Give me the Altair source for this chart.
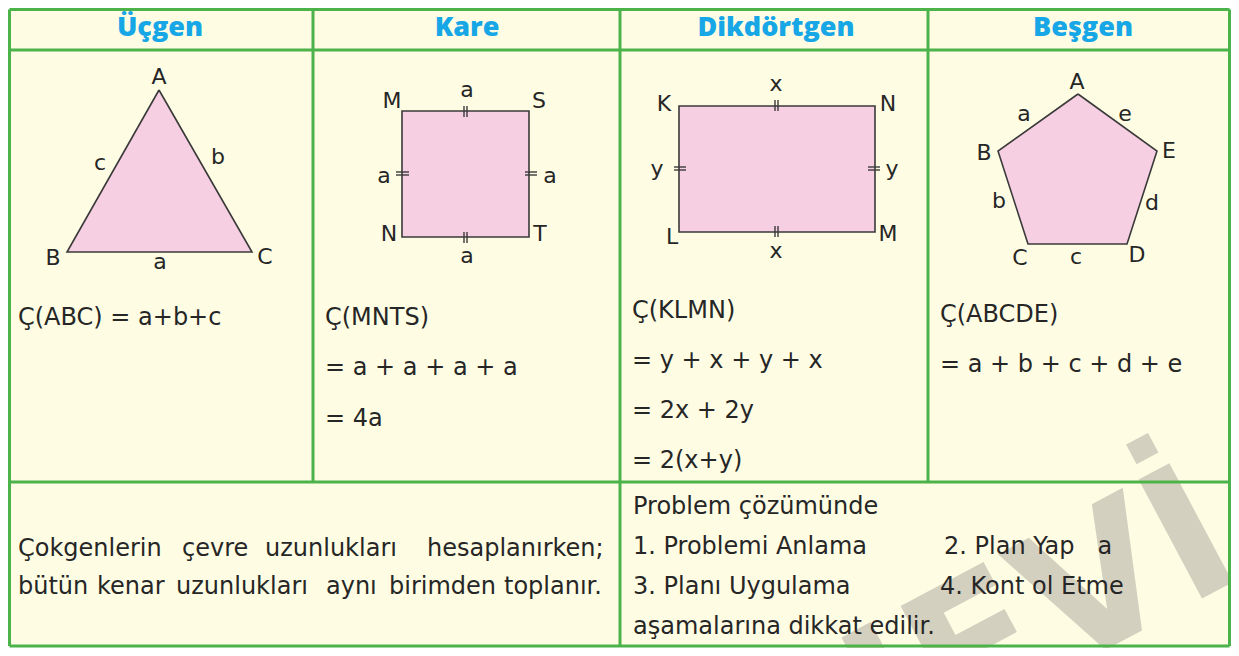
import altair as alt
import pandas as pd

BODY_FONT = "DejaVu Sans"
GREEN = "#4cb34b"
BLUE = "#17a6e6"
INK = "#262626"
PINK = "#f7cfe3"
EDGE = "#3a3a3a"
BG = "#fefde4"

# ---------------- table frame ----------------
h_line_y = [9.5, 50, 482, 646]
h_line_x1 = [9.5, 9.5, 9.5, 9.5]
h_line_x2 = [1229.5, 1229.5, 1229.5, 1229.5]
v_line_x = [9.5, 313, 620, 928, 1229.5]
v_line_y1 = [9.5, 9.5, 9.5, 9.5, 9.5]
v_line_y2 = [646, 482, 646, 482, 646]

# ---------------- headers ----------------
headers = ["Üçgen", "Kare", "Dikdörtgen", "Beşgen"]
header_x = [160, 467, 776, 1083]
header_y = [28, 28, 28, 28]

# ---------------- polygons ----------------
tri_x = [159, 67, 252]
tri_y = [90, 252, 252]
pen_x = [1078, 1157, 1127, 1028, 998]
pen_y = [94, 151, 244, 244, 151]
# square MNTS and rectangle KLMN (left, right, top, bottom)
quad_names = ["kare", "dikdortgen"]
quad_x1 = [402, 679]
quad_x2 = [529, 875]
quad_y1 = [111, 106]
quad_y2 = [237, 232]

# ---------------- equal-length tick marks ----------------
tick_x1 = [464, 467, 464, 467, 396, 396, 525, 525,
           775, 778, 775, 778, 674, 674, 868, 868]
tick_x2 = [464, 467, 464, 467, 409, 409, 537, 537,
           775, 778, 775, 778, 686, 686, 880, 880]
tick_y1 = [106, 106, 232, 232, 172, 175, 172, 175,
           100, 100, 226, 226, 167, 170, 167, 170]
tick_y2 = [117, 117, 243, 243, 172, 175, 172, 175,
           111, 111, 237, 237, 167, 170, 167, 170]

# ---------------- vertex / side labels ----------------
label_text = ["A", "B", "C", "c", "b", "a",
              "M", "S", "N", "T", "a", "a", "a", "a",
              "K", "N", "L", "M", "x", "x", "y", "y",
              "A", "B", "E", "C", "D", "a", "e", "b", "d", "c"]
label_x = [159, 53, 265, 100, 218, 160,
           392, 539, 389, 540, 467, 384, 550, 467,
           664, 888, 672, 888, 776, 776, 657, 892,
           1077, 984, 1169, 1020, 1137, 1024, 1125, 999, 1152, 1076]
label_y = [77, 258, 257, 163, 157, 262,
           101, 101, 234, 234, 90, 176, 176, 256,
           104, 104, 237, 234, 84, 251, 169, 169,
           82, 153, 151, 258, 255, 114, 114, 201, 203, 257]

# ---------------- formulas and notes ----------------
body_text = ["Ç(ABC) = a+b+c",
             "Ç(MNTS)", "= a + a + a + a", "= 4a",
             "Ç(KLMN)", "= y + x + y + x", "= 2x + 2y", "= 2(x+y)",
             "Ç(ABCDE)", "= a + b + c + d + e",
             "Çokgenlerin", "çevre", "uzunlukları", "hesaplanırken;",
             "bütün", "kenar", "uzunlukları", "aynı", "birimden", "toplanır.",
             "Problem çözümünde",
             "1. Problemi Anlama", "2. Plan Yap\u00a0\u00a0\u00a0a",
             "3. Planı Uygulama", "4. Kont\u00a0ol Etme",
             "aşamalarına dikkat edilir."]
body_x = [18,
          325, 325, 325,
          632, 632, 632, 632,
          940, 940,
          18, 182, 265, 427,
          18, 97, 176, 326, 389, 504,
          633,
          633, 944,
          633, 940,
          633]
body_y = [318,
          318, 368, 419,
          311, 361, 411, 461,
          315, 365,
          549, 549, 549, 549,
          587, 587, 587, 587, 587, 587,
          507,
          547, 547,
          587, 587,
          627]

# ---------------- watermark ----------------
mark_word = ["NEVİ"]
mark_x = [1030]
mark_y = [690]

# ================= build =================
X = lambda f: alt.X(f, type="quantitative", scale=alt.Scale(domain=[8, 1231], nice=False, zero=False), axis=None)
Y = lambda f: alt.Y(f, type="quantitative", scale=alt.Scale(domain=[8, 648], nice=False, zero=False, reverse=True), axis=None)

bg = alt.Chart(pd.DataFrame({"x": [9.5], "x2": [1229.5], "y": [9.5], "y2": [646]})).mark_rect(
    fill=BG).encode(x=X("x"), x2="x2", y=Y("y"), y2="y2")

watermark = alt.Chart(pd.DataFrame({"t": mark_word, "x": mark_x, "y": mark_y})).mark_text(
    font="DejaVu Sans", fontWeight="bold", fontSize=185, color="#d4d0bf",
    angle=332, align="center", baseline="alphabetic").encode(x=X("x"), y=Y("y"), text="t:N")

poly_rows = []
for i, (px, py) in enumerate(zip(tri_x + [tri_x[0]], tri_y + [tri_y[0]])):
    poly_rows.append({"shape": "ucgen", "i": i, "x": px, "y": py})
for i, (px, py) in enumerate(zip(pen_x + [pen_x[0]], pen_y + [pen_y[0]])):
    poly_rows.append({"shape": "besgen", "i": i, "x": px, "y": py})
polys = alt.Chart(pd.DataFrame(poly_rows)).mark_line(
    fill=PINK, stroke=EDGE, strokeWidth=1.6, strokeJoin="miter").encode(
    x=X("x"), y=Y("y"), detail="shape:N", order="i:Q")

quads = alt.Chart(pd.DataFrame({"name": quad_names, "x": quad_x1, "x2": quad_x2,
                                "y": quad_y1, "y2": quad_y2})).mark_rect(
    fill=PINK, stroke=EDGE, strokeWidth=1.6).encode(x=X("x"), x2="x2", y=Y("y"), y2="y2")

ticks = alt.Chart(pd.DataFrame({"x": tick_x1, "x2": tick_x2, "y": tick_y1, "y2": tick_y2})).mark_rule(
    color=EDGE, strokeWidth=1.4).encode(x=X("x"), x2="x2", y=Y("y"), y2="y2")

labels = alt.Chart(pd.DataFrame({"t": label_text, "x": label_x, "y": label_y})).mark_text(
    font=BODY_FONT, fontSize=22, color=INK, align="center", baseline="middle").encode(
    x=X("x"), y=Y("y"), text="t:N")

body = alt.Chart(pd.DataFrame({"t": body_text, "x": body_x, "y": body_y})).mark_text(
    font=BODY_FONT, fontSize=24, color=INK, align="left", baseline="middle").encode(
    x=X("x"), y=Y("y"), text="t:N")

hlines = alt.Chart(pd.DataFrame({"x": h_line_x1, "x2": h_line_x2, "y": h_line_y})).mark_rule(
    color=GREEN, strokeWidth=3).encode(x=X("x"), x2="x2", y=Y("y"))
vlines = alt.Chart(pd.DataFrame({"x": v_line_x, "y": v_line_y1, "y2": v_line_y2})).mark_rule(
    color=GREEN, strokeWidth=3).encode(x=X("x"), y=Y("y"), y2="y2")

heads = alt.Chart(pd.DataFrame({"t": headers, "x": header_x, "y": header_y})).mark_text(
    font="Open Sans", fontWeight=800, fontSize=27, color=BLUE, align="center", baseline="middle").encode(
    x=X("x"), y=Y("y"), text="t:N")

chart = alt.layer(bg, watermark, polys, quads, ticks, labels, body, hlines, vlines, heads).properties(
    width=1223, height=640, padding=0,
    autosize=alt.AutoSizeParams(type="none"),
    background="white",
).configure_view(stroke=None)

chart.save("out.html", embed_options={"renderer": "svg", "actions": False})
